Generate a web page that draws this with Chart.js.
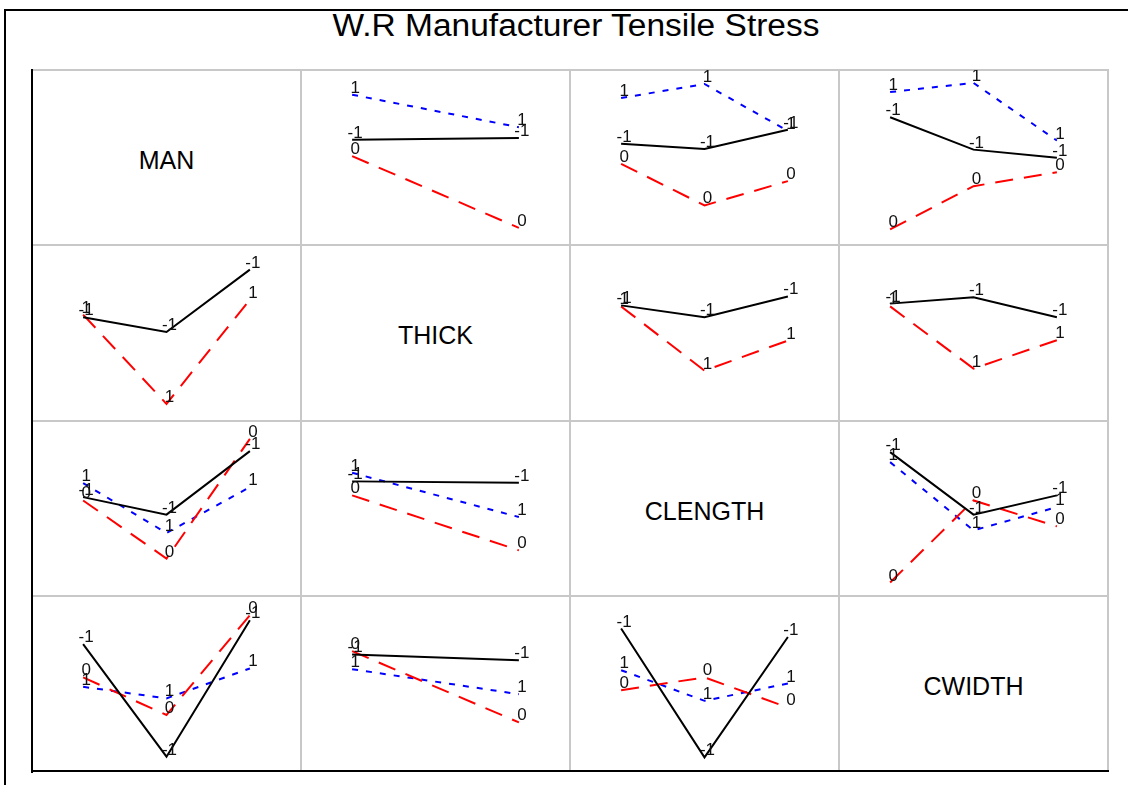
<!DOCTYPE html>
<html>
<head>
<meta charset="utf-8">
<script src="https://cdn.jsdelivr.net/npm/chart.js@4/dist/chart.umd.min.js"></script>
<style>
  body { margin: 0; width: 1128px; height: 785px; overflow: hidden; position: relative; background: #fff;
         font-family: "Liberation Sans", Arial, sans-serif; }
  #frame { position: absolute; left: 4px; top: 9px; width: 1200px; height: 900px;
           border-left: 2px solid #000; border-top: 2px solid #000; }
  #title { position: absolute; left: 0; width: 1152px; top: 10px; line-height: 31px; font-size: 31px;
           text-align: center; color: #000; transform: scaleX(1.08); }
  .gline { position: absolute; background: #c8c8c8; }
  .bline { position: absolute; background: #000; }
  .factor { position: absolute; display: flex; align-items: center; justify-content: center;
            font-size: 25px; color: #000; padding-top: 5px; box-sizing: border-box; }
  canvas.cell { position: absolute; }
</style>
</head>
<body>
<div id="frame"></div>
<div id="title">W.R Manufacturer Tensile Stress</div>
<script>
// factor levels
const manLevels = [-1, 0, 1];
const thickLevels = [-1, 1];
const clengthLevels = [-1, 0, 1];
const cwidthLevels = [-1, 0, 1];

// mean response; one row per trace level, one column per x level
const manByThick = [[60.2, 61.2], [50.8, 9.8], [85.9, 67.3]];
const manByClength = [[57.8, 54.9, 65.9], [46.4, 22.6, 36.5], [84.0, 92.0, 65.2]];
const manByCwidth = [[73.0, 54.5, 49.8], [8.9, 33.6, 41.6], [87.4, 92.6, 59.7]];

const thickByMan = [[58.7, 50.3, 85.9], [60.2, 9.2, 68.8]];
const thickByClength = [[65.5, 58.7, 70.6], [64.9, 28.2, 45.4]];
const thickByCwidth = [[66.5, 70.1, 58.7], [64.9, 29.4, 45.6]];

const clengthByMan = [[56.5, 46.5, 82.8], [54.6, 21.4, 89.8], [64.5, 36.0, 62.2]];
const clengthByThick = [[65.5, 64.7], [57.5, 26.1], [70.4, 45.1]];
const clengthByCwidth = [[82.2, 46.5, 57.5], [7.7, 54.6, 39.8], [76.5, 37.5, 50.8]];

const cwidthByMan = [[72.5, 8.2, 86.2], [53.5, 32.0, 89.0], [48.1, 41.5, 58.6]];
const cwidthByThick = [[66.6, 63.3], [68.5, 27.8], [58.2, 43.9]];
const cwidthByClength = [[81.4, 7.8, 76.6], [46.2, 53.5, 36.3], [57.6, 40.1, 50.0]];

const factorNames = ['MAN', 'THICK', 'CLENGTH', 'CWIDTH'];
const factorLevels = [manLevels, thickLevels, clengthLevels, cwidthLevels];
const cellMeans = [
  [null, manByThick, manByClength, manByCwidth],
  [thickByMan, null, thickByClength, thickByCwidth],
  [clengthByMan, clengthByThick, null, clengthByCwidth],
  [cwidthByMan, cwidthByThick, cwidthByClength, null],
];

// styles for first, second, third trace level
const lineColors = ['#000000', '#ff0000', '#0000ff'];
const lineDashes = [[], [18, 11], [6, 8]];

const gridLeft = 32, gridTop = 70, cellW = 269, cellH = 175.25;
const n = factorNames.length;

function addDiv(cls, left, top, width, height) {
  const d = document.createElement('div');
  d.className = cls;
  Object.assign(d.style, { left: left + 'px', top: top + 'px', width: width + 'px', height: height + 'px' });
  document.body.append(d);
  return d;
}

// matrix grid
for (let i = 1; i <= n; i++) {
  addDiv('gline', gridLeft + i * cellW - 1, gridTop - 1, 2, n * cellH + 2);
}
for (let i = 0; i < n; i++) {
  addDiv('gline', gridLeft, Math.round(gridTop + i * cellH) - 1, n * cellW + 1, 2);
}
addDiv('bline', gridLeft - 1, gridTop - 1, 2, n * cellH + 3);
addDiv('bline', gridLeft - 1, gridTop + n * cellH - 1, n * cellW + 2, 2);

// level number next to every point
const levelLabels = {
  id: 'levelLabels',
  afterDatasetsDraw(chart) {
    const ctx = chart.ctx;
    ctx.save();
    ctx.font = '17px "Liberation Sans", Arial, sans-serif';
    ctx.fillStyle = '#111';
    ctx.textAlign = 'center';
    ctx.textBaseline = 'alphabetic';
    chart.data.datasets.forEach((ds, i) => {
      chart.getDatasetMeta(i).data.forEach(pt => ctx.fillText(ds.label, pt.x + 3, pt.y - 2));
    });
    ctx.restore();
  },
};

for (let r = 0; r < n; r++) {
  for (let c = 0; c < n; c++) {
    const left = gridLeft + c * cellW;
    const top = Math.round(gridTop + r * cellH);
    if (r === c) {
      addDiv('factor', left, top, cellW, Math.round(cellH)).textContent = factorNames[r];
      continue;
    }
    const canvas = document.createElement('canvas');
    canvas.className = 'cell';
    canvas.width = cellW;
    canvas.height = Math.round(cellH);
    canvas.style.left = left + 'px';
    canvas.style.top = top + 'px';
    document.body.append(canvas);

    const xs = factorLevels[c];
    const traces = factorLevels[r];
    const means = cellMeans[r][c];
    new Chart(canvas, {
      type: 'line',
      data: {
        datasets: traces.map((lvl, k) => ({
          label: String(lvl),
          data: xs.map((x, i) => ({ x: x, y: means[k][i] })),
          borderColor: lineColors[k],
          borderDash: lineDashes[k],
          borderWidth: 2,
          pointRadius: 0,
          tension: 0,
          fill: false,
          clip: false,
        })),
      },
      options: {
        responsive: false,
        animation: false,
        events: [],
        layout: { padding: 0 },
        plugins: { legend: { display: false }, tooltip: { enabled: false } },
        scales: {
          x: { type: 'linear', display: false, min: -1.613, max: 1.613 },
          y: { type: 'linear', display: false, min: 0, max: 100 },
        },
      },
      plugins: [levelLabels],
    });
  }
}
</script>
</body>
</html>
